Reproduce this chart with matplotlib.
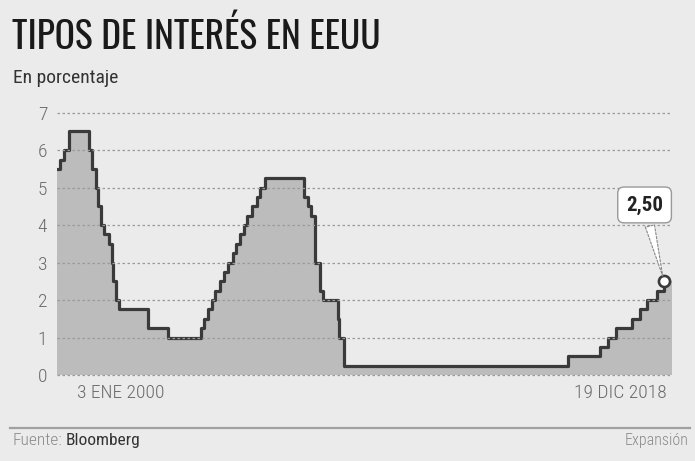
import matplotlib
matplotlib.use("Agg")
import matplotlib.pyplot as plt
from matplotlib.lines import Line2D
import pandas as pd

COND = ["Roboto Condensed", "DejaVu Sans"]
TITLE = ["Oswald", "Roboto Condensed", "DejaVu Sans"]

# Fed funds target (upper bound), change dates and levels
change_dates = [
    "2000-01-03", "2000-02-02", "2000-03-21", "2000-05-16",
    "2001-01-03", "2001-01-31", "2001-03-20", "2001-04-18", "2001-05-15",
    "2001-06-27", "2001-08-21", "2001-09-17", "2001-10-02", "2001-11-06",
    "2001-12-11", "2002-11-06", "2003-06-25",
    "2004-06-30", "2004-08-10", "2004-09-21", "2004-11-10", "2004-12-14",
    "2005-02-02", "2005-03-22", "2005-05-03", "2005-06-30", "2005-08-09",
    "2005-09-20", "2005-11-01", "2005-12-13", "2006-01-31", "2006-03-28",
    "2006-05-10", "2006-06-29",
    "2007-09-18", "2007-10-31", "2007-12-11", "2008-01-22", "2008-01-30",
    "2008-03-18", "2008-04-30", "2008-10-08", "2008-10-29", "2008-12-16",
    "2015-12-16", "2016-12-14", "2017-03-15", "2017-06-14", "2017-12-13",
    "2018-03-21", "2018-06-13", "2018-09-26", "2018-12-19",
]
rates = [
    5.50, 5.75, 6.00, 6.50,
    6.00, 5.50, 5.00, 4.50, 4.00,
    3.75, 3.50, 3.00, 2.50, 2.00,
    1.75, 1.25, 1.00,
    1.25, 1.50, 1.75, 2.00, 2.25,
    2.50, 2.75, 3.00, 3.25, 3.50,
    3.75, 4.00, 4.25, 4.50, 4.75,
    5.00, 5.25,
    4.75, 4.50, 4.25, 3.50, 3.00,
    2.25, 2.00, 1.50, 1.00, 0.25,
    0.50, 0.75, 1.00, 1.25, 1.50,
    1.75, 2.00, 2.25, 2.50,
]
axis_end = "2019-03-20"
y_ticks = [0, 1, 2, 3, 4, 5, 6, 7]
first_label = "3 ENE 2000"
last_label = "19 DIC 2018"
last_value_label = "2,50"

dates = pd.to_datetime(change_dates)
end = pd.Timestamp(axis_end)

fig = plt.figure(figsize=(6.95, 4.61), dpi=100)
fig.patch.set_facecolor("#ebebeb")
ax = fig.add_axes([57 / 695, 1 - 375 / 461, (672 - 57) / 695, (375 - 112.7) / 461])
ax.set_facecolor("#ebebeb")

fill_x = list(dates) + [end]
fill_y = rates + [rates[-1]]
ax.fill_between(fill_x, fill_y, 0, step="post", color="#bcbcbc", lw=0, zorder=2)
ax.step(dates, rates, where="post", color="#3a3a3a", lw=2.3, zorder=3)
ax.plot(dates[-1], rates[-1], "o", ms=8, mfc="white", mec="#3a3a3a", mew=1.9, zorder=5)

ax.set_xlim(dates[0], end)
ax.set_ylim(0, 7)
ax.set_yticks(y_ticks)
ax.set_yticklabels([str(v) for v in y_ticks], family=COND, fontweight="light",
                   fontsize=14, color="#6a6a6a")
ax.set_xticks([])
ax.tick_params(axis="y", length=0, pad=7)
for s in ax.spines.values():
    s.set_visible(False)
for v in y_ticks:
    ax.axhline(v, color="#9a9a9a", lw=0.9, ls=(0, (2, 2)), zorder=4, clip_on=False)

ax.annotate(last_value_label, xy=(dates[-1], rates[-1]), xytext=(-14, 55),
            textcoords="offset points", ha="center", va="center",
            fontsize=15, fontweight="bold", family=COND, color="#222222",
            bbox=dict(boxstyle="round,pad=0.4,rounding_size=0.3", fc="white", ec="#999999", lw=1),
            arrowprops=dict(arrowstyle="wedge,tail_width=0.45,shrink_factor=0.5",
                            fc="white", ec="#888888", lw=0.8, ls=(0, (2, 1.5)), shrinkB=4),
            zorder=6)

fig.text(77 / 695, 1 - 393 / 461, first_label, family=COND, fontweight="light",
         fontsize=14, color="#6a6a6a", ha="left", va="center")
fig.text(667 / 695, 1 - 393 / 461, last_label, family=COND, fontweight="light",
         fontsize=14, color="#6a6a6a", ha="right", va="center")

fig.text(12 / 695, 1 - 36 / 461, "TIPOS DE INTERÉS EN EEUU", family=TITLE,
         fontsize=27, color="#1a1a1a", ha="left", va="center")
fig.text(13 / 695, 1 - 78 / 461, "En porcentaje", family=COND,
         fontsize=14, color="#333333", ha="left", va="center")

fig.add_artist(Line2D([10 / 695, 690 / 695], [1 - 428 / 461] * 2,
                      transform=fig.transFigure, color="#a0a0a0", lw=1.6))
source = fig.text(12 / 695, 1 - 440 / 461, "Fuente:", family=COND, fontweight="light",
                  fontsize=12.5, color="#8a8a8a", ha="left", va="center")
fig.add_artist(plt.Annotation("Bloomberg", xy=(1, 0.5), xycoords=source,
                              xytext=(3, 0), textcoords="offset points",
                              family=COND, fontsize=12.5, color="#333333",
                              ha="left", va="center"))
fig.text(689 / 695, 1 - 440 / 461, "Expansión", family=COND, fontweight="light",
         fontsize=11.5, color="#8a8a8a", ha="right", va="center")

fig.savefig("out.png", dpi=100, facecolor=fig.get_facecolor())
